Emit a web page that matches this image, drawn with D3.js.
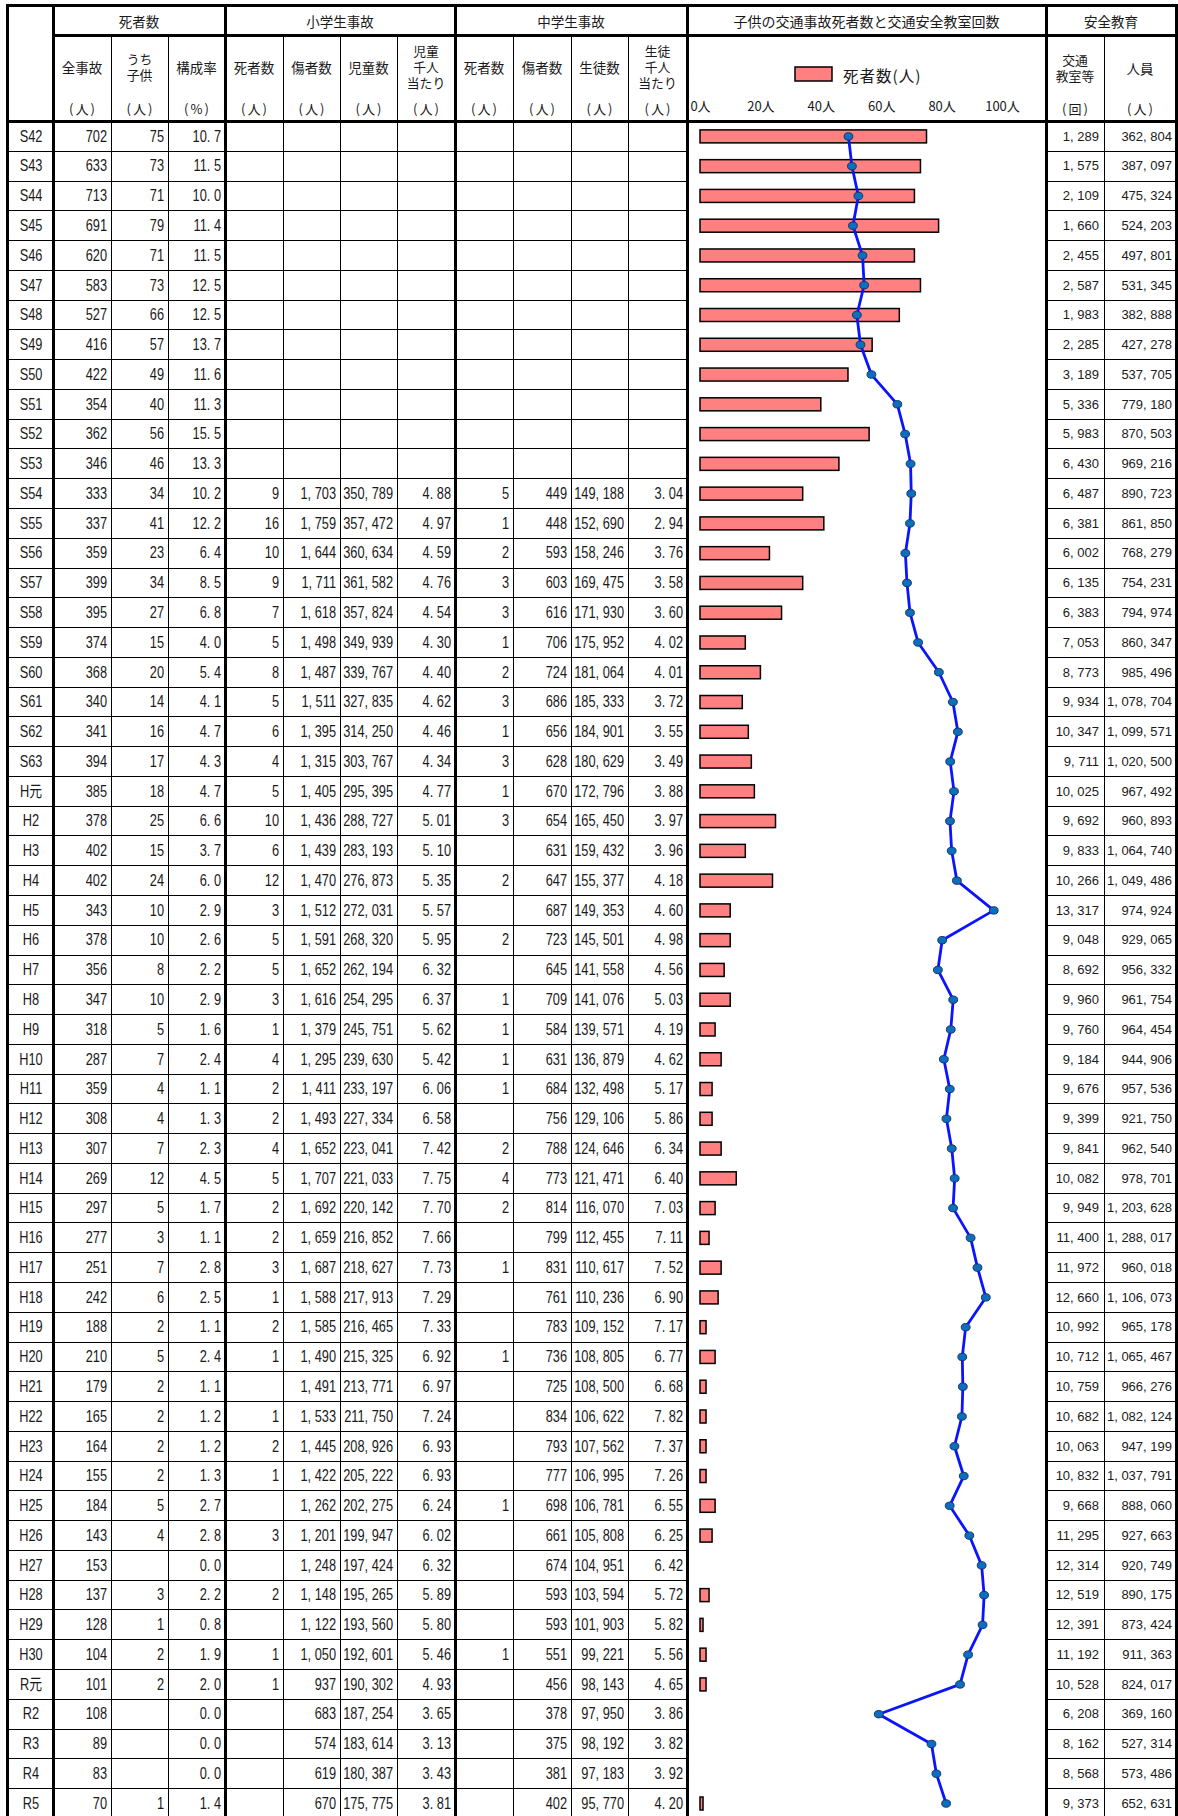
<!DOCTYPE html>
<html><head><meta charset="utf-8">
<script src="https://cdn.jsdelivr.net/npm/d3@7"></script>
<style>
html,body{margin:0;padding:0;background:#fff;}
svg{display:block;}
</style></head>
<body>
<script>
// ---------------- DATA ----------------
const years = ['S42','S43','S44','S45','S46','S47','S48','S49','S50','S51','S52','S53',
  'S54','S55','S56','S57','S58','S59','S60','S61','S62','S63',
  'H元','H2','H3','H4','H5','H6','H7','H8','H9','H10',
  'H11','H12','H13','H14','H15','H16','H17','H18','H19','H20',
  'H21','H22','H23','H24','H25','H26','H27','H28','H29','H30',
  'R元','R2','R3','R4','R5'];
const _ = null;
const allAccidents = [702,633,713,691,620,583,527,416,422,354,362,346,
  333,337,359,399,395,374,368,340,341,394,
  385,378,402,402,343,378,356,347,318,287,
  359,308,307,269,297,277,251,242,188,210,
  179,165,164,155,184,143,153,137,128,104,
  101,108,89,83,70];
const childDeaths = [75,73,71,79,71,73,66,57,49,40,56,46,
  34,41,23,34,27,15,20,14,16,17,
  18,25,15,24,10,10,8,10,5,7,
  4,4,7,12,5,3,7,6,2,5,
  2,2,2,2,5,4,_,3,1,2,
  2,_,_,_,1];
const childRatio = [10.7,11.5,10.0,11.4,11.5,12.5,12.5,13.7,11.6,11.3,15.5,13.3,
  10.2,12.2,6.4,8.5,6.8,4.0,5.4,4.1,4.7,4.3,
  4.7,6.6,3.7,6.0,2.9,2.6,2.2,2.9,1.6,2.4,
  1.1,1.3,2.3,4.5,1.7,1.1,2.8,2.5,1.1,2.4,
  1.1,1.2,1.2,1.3,2.7,2.8,0.0,2.2,0.8,1.9,
  2.0,0.0,0.0,0.0,1.4];
const elemDeaths = [_,_,_,_,_,_,_,_,_,_,_,_,
  9,16,10,9,7,5,8,5,6,4,
  5,10,6,12,3,5,5,3,1,4,
  2,2,4,5,2,2,3,1,2,1,
  _,1,2,1,_,3,_,2,_,1,
  1,_,_,_,_];
const elemInjured = [_,_,_,_,_,_,_,_,_,_,_,_,
  1703,1759,1644,1711,1618,1498,1487,1511,1395,1315,
  1405,1436,1439,1470,1512,1591,1652,1616,1379,1295,
  1411,1493,1652,1707,1692,1659,1687,1588,1585,1490,
  1491,1533,1445,1422,1262,1201,1248,1148,1122,1050,
  937,683,574,619,670];
const elemPupils = [_,_,_,_,_,_,_,_,_,_,_,_,
  350789,357472,360634,361582,357824,349939,339767,327835,314250,303767,
  295395,288727,283193,276873,272031,268320,262194,254295,245751,239630,
  233197,227334,223041,221033,220142,216852,218627,217913,216465,215325,
  213771,211750,208926,205222,202275,199947,197424,195265,193560,192601,
  190302,187254,183614,180387,175775];
const elemPer1000 = [_,_,_,_,_,_,_,_,_,_,_,_,
  4.88,4.97,4.59,4.76,4.54,4.30,4.40,4.62,4.46,4.34,
  4.77,5.01,5.10,5.35,5.57,5.95,6.32,6.37,5.62,5.42,
  6.06,6.58,7.42,7.75,7.70,7.66,7.73,7.29,7.33,6.92,
  6.97,7.24,6.93,6.93,6.24,6.02,6.32,5.89,5.80,5.46,
  4.93,3.65,3.13,3.43,3.81];
const juniorDeaths = [_,_,_,_,_,_,_,_,_,_,_,_,
  5,1,2,3,3,1,2,3,1,3,
  1,3,_,2,_,2,_,1,1,1,
  1,_,2,4,2,_,1,_,_,1,
  _,_,_,_,1,_,_,_,_,1,
  _,_,_,_,_];
const juniorInjured = [_,_,_,_,_,_,_,_,_,_,_,_,
  449,448,593,603,616,706,724,686,656,628,
  670,654,631,647,687,723,645,709,584,631,
  684,756,788,773,814,799,831,761,783,736,
  725,834,793,777,698,661,674,593,593,551,
  456,378,375,381,402];
const juniorStudents = [_,_,_,_,_,_,_,_,_,_,_,_,
  149188,152690,158246,169475,171930,175952,181064,185333,184901,180629,
  172796,165450,159432,155377,149353,145501,141558,141076,139571,136879,
  132498,129106,124646,121471,116070,112455,110617,110236,109152,108805,
  108500,106622,107562,106995,106781,105808,104951,103594,101903,99221,
  98143,97950,98192,97183,95770];
const juniorPer1000 = [_,_,_,_,_,_,_,_,_,_,_,_,
  3.04,2.94,3.76,3.58,3.60,4.02,4.01,3.72,3.55,3.49,
  3.88,3.97,3.96,4.18,4.60,4.98,4.56,5.03,4.19,4.62,
  5.17,5.86,6.34,6.40,7.03,7.11,7.52,6.90,7.17,6.77,
  6.68,7.82,7.37,7.26,6.55,6.25,6.42,5.72,5.82,5.56,
  4.65,3.86,3.82,3.92,4.20];
const classCount = [1289,1575,2109,1660,2455,2587,1983,2285,3189,5336,5983,6430,
  6487,6381,6002,6135,6383,7053,8773,9934,10347,9711,
  10025,9692,9833,10266,13317,9048,8692,9960,9760,9184,
  9676,9399,9841,10082,9949,11400,11972,12660,10992,10712,
  10759,10682,10063,10832,9668,11295,12314,12519,12391,11192,
  10528,6208,8162,8568,9373];
const attendees = [362804,387097,475324,524203,497801,531345,382888,427278,537705,779180,870503,969216,
  890723,861850,768279,754231,794974,860347,985496,1078704,1099571,1020500,
  967492,960893,1064740,1049486,974924,929065,956332,961754,964454,944906,
  957536,921750,962540,978701,1203628,1288017,960018,1106073,965178,1065467,
  966276,1082124,947199,1037791,888060,927663,920749,890175,873424,911363,
  824017,369160,527314,573486,652631];
// values drawn by the line in the chart (R2 plotted lower than its table value)
const classLine = [1289,1575,2109,1660,2455,2587,1983,2285,3189,5336,5983,6430,
  6487,6381,6002,6135,6383,7053,8773,9934,10347,9711,
  10025,9692,9833,10266,13317,9048,8692,9960,9760,9184,
  9676,9399,9841,10082,9949,11400,11972,12660,10992,10712,
  10759,10682,10063,10832,9668,11295,12314,12519,12391,11192,
  10528,3800,8162,8568,9373];
const barTicks = [0,20,40,60,80,100];
const chartTitle = '子供の交通事故死者数と交通安全教室回数';
const legendLabel = '死者数(人)';

// ---------------- LAYOUT ----------------
const W = 1178, H = 1816;
const headTop = 5, headMid = 35, headBot = 121, rowH = 29.77;
const colEdges = [7, 53, 111, 168, 225, 283, 340, 397, 455, 513, 571, 628, 687];
const chartL = 687, chartR = 1046;
const rEdges = [1046, 1104, 1176];
const thickX = [7, 53, 225, 455, 687, 1046, 1176];
const thinX = [111, 168, 283, 340, 397, 513, 571, 628, 1104];

const CJK = '"Noto Sans CJK JP", "Noto Sans", sans-serif';
const NUM = '"Liberation Sans", "Noto Sans CJK JP", sans-serif';
const ink = '#1a1a1a';

const svg = d3.select('body').append('svg').attr('width', W).attr('height', H)
  .style('background', '#fff');

const bottom = headBot + rowH * years.length;
const yRow = d3.scaleBand().domain(years).range([headBot, bottom]).padding(0);
const cy = y => yRow(y) + yRow.bandwidth() / 2;

const fmtInt = v => d3.format(',')(v).replace(/,/g, ', ');
const fmt1 = v => d3.format('.1f')(v).replace('.', '. ');
const fmt2 = v => d3.format('.2f')(v).replace('.', '. ');

// ---------------- CHART ----------------
const xBar = d3.scaleLinear().domain([0, 100]).range([700, 1002]);
const xLine = d3.scaleLinear().domain([-11000, 14000]).range([700, 1002]);

const chart = svg.append('g');
const barData = years.map((y, i) => ({y, v: childDeaths[i]})).filter(d => d.v != null && d.v > 0);
chart.selectAll('rect.bar').data(barData).join('rect').attr('class', 'bar')
  .attr('x', xBar(0))
  .attr('y', d => cy(d.y) - 6.5 + 0.5)
  .attr('width', d => xBar(d.v) - xBar(0))
  .attr('height', 13)
  .attr('fill', '#FF8080').attr('stroke', '#000').attr('stroke-width', 1.5);

const lineData = years.map((y, i) => ({y, v: classLine[i]}));
chart.append('path').datum(lineData)
  .attr('d', d3.line().x(d => xLine(d.v)).y(d => cy(d.y) + 0.5))
  .attr('fill', 'none').attr('stroke', '#0A14FF').attr('stroke-width', 2.8)
  .attr('stroke-linejoin', 'round');
chart.selectAll('ellipse').data(lineData).join('ellipse')
  .attr('cx', d => xLine(d.v)).attr('cy', d => cy(d.y) + 0.5)
  .attr('rx', 4.4).attr('ry', 3.7)
  .attr('fill', '#0A6FC0').attr('stroke', '#1D3560').attr('stroke-width', 1);

// axis labels
const ax = svg.append('g').attr('transform', `translate(0,111)`)
  .call(d3.axisTop(xBar).tickValues(barTicks).tickSize(0).tickPadding(0).tickFormat(d => d + '人'));
ax.select('.domain').remove();
ax.selectAll('text').attr('font-family', CJK).attr('font-size', 13).attr('fill', ink);

// legend
svg.append('rect').attr('x', 795).attr('y', 67).attr('width', 37).attr('height', 14)
  .attr('fill', '#FF8080').attr('stroke', '#000').attr('stroke-width', 1.5);
svg.append('text').attr('x', 843).attr('y', 74.5).attr('dominant-baseline', 'central')
  .attr('font-family', CJK).attr('font-size', 15.5).attr('letter-spacing', 1)
  .attr('fill', ink).text(legendLabel);

// ---------------- TABLE TEXT ----------------
const txt = svg.append('g');
function cjk(x, y, s, size = 13.5, ls = 0) {
  txt.append('text').attr('x', x).attr('y', y).attr('text-anchor', 'middle')
    .attr('dominant-baseline', 'central')
    .attr('font-family', CJK).attr('font-size', size).attr('fill', ink)
    .attr('letter-spacing', ls).text(s);
}
// group headers
cjk((colEdges[1] + colEdges[4]) / 2, 21, '死者数');
cjk((colEdges[4] + colEdges[8]) / 2, 21, '小学生事故');
cjk((colEdges[8] + colEdges[12]) / 2, 21, '中学生事故');
cjk((chartL + chartR) / 2, 21, chartTitle, 14);
cjk((rEdges[0] + rEdges[2]) / 2, 21, '安全教育');

const subHeads = [['全事故'], ['うち', '子供'], ['構成率'], ['死者数'], ['傷者数'], ['児童数'], ['児童', '千人', '当たり'],
  ['死者数'], ['傷者数'], ['生徒数'], ['生徒', '千人', '当たり']];
const units = ['(人)', '(人)', '(%)', '(人)', '(人)', '(人)', '(人)', '(人)', '(人)', '(人)', '(人)'];
const lineYs = {1: [67], 2: [58.5, 74.5], 3: [50, 66, 82]};
subHeads.forEach((lines, i) => {
  const cx = (colEdges[i + 1] + colEdges[i + 2]) / 2;
  const fs = lines.length > 1 ? 12.8 : 13.5;
  lines.forEach((s, k) => cjk(cx, lineYs[lines.length][k], s, fs));
  cjk(cx + 1, 108, units[i], 13, 2);
});
const rHeads = [['交通', '教室等'], ['人員']];
const rUnits = ['(回)', '(人)'];
rHeads.forEach((lines, i) => {
  const cx = (rEdges[i] + rEdges[i + 1]) / 2;
  const fs = lines.length > 1 ? 12.8 : 13.5;
  lines.forEach((s, k) => cjk(cx, lineYs[lines.length][k] + 1, s, fs));
  cjk(cx + 1, 108, rUnits[i], 13, 2);
});

// condensed numeric cells
function num(x, y, s, anchor = 'end') {
  txt.append('text').attr('transform', `translate(${x},${y}) scale(0.8,1)`)
    .attr('text-anchor', anchor).attr('font-family', NUM).attr('font-size', 16)
    .attr('fill', ink).text(s);
}
const leftCols = [
  [allAccidents, fmtInt], [childDeaths, fmtInt], [childRatio, fmt1],
  [elemDeaths, fmtInt], [elemInjured, fmtInt], [elemPupils, fmtInt], [elemPer1000, fmt2],
  [juniorDeaths, fmtInt], [juniorInjured, fmtInt], [juniorStudents, fmtInt], [juniorPer1000, fmt2]];
years.forEach((y, r) => {
  const base = cy(y) + 5.8;
  num((colEdges[0] + colEdges[1]) / 2 + 1, base, y, 'middle');
  leftCols.forEach(([arr, f], c) => {
    const v = arr[r];
    if (v == null) return;
    num(colEdges[c + 2] - 4, base, f(v));
  });
  [[classCount, 0], [attendees, 1]].forEach(([arr, c]) => {
    txt.append('text').attr('x', rEdges[c + 1] - (c === 1 ? 4 : 5)).attr('y', cy(y) + 4.8)
      .attr('text-anchor', 'end').attr('font-family', NUM).attr('font-size', 13)
      .attr('fill', ink).text(fmtInt(arr[r]));
  });
});

// ---------------- GRID LINES ----------------
const grid = svg.append('g').attr('stroke', '#000').attr('shape-rendering', 'crispEdges');
years.forEach((y, r) => {
  if (r === 0) return;
  const yy = Math.round(yRow(y)) + 0.5;
  grid.append('line').attr('x1', colEdges[0]).attr('x2', chartL).attr('y1', yy).attr('y2', yy).attr('stroke-width', 1);
  grid.append('line').attr('x1', rEdges[0]).attr('x2', rEdges[2]).attr('y1', yy).attr('y2', yy).attr('stroke-width', 1.3);
});
thinX.forEach(x => {
  grid.append('line').attr('x1', x + 0.5).attr('x2', x + 0.5).attr('y1', headMid).attr('y2', H).attr('stroke-width', 1);
});
grid.append('line').attr('x1', colEdges[0] - 1.5).attr('x2', rEdges[2] + 1.5).attr('y1', headTop).attr('y2', headTop).attr('stroke-width', 3);
grid.append('line').attr('x1', colEdges[1]).attr('x2', rEdges[2]).attr('y1', headMid).attr('y2', headMid).attr('stroke-width', 3);
grid.append('line').attr('x1', colEdges[0]).attr('x2', rEdges[2]).attr('y1', headBot).attr('y2', headBot).attr('stroke-width', 3);
thickX.forEach(x => {
  grid.append('line').attr('x1', x).attr('x2', x).attr('y1', headTop - 1.5).attr('y2', H).attr('stroke-width', 3);
});
</script>
</body></html>
